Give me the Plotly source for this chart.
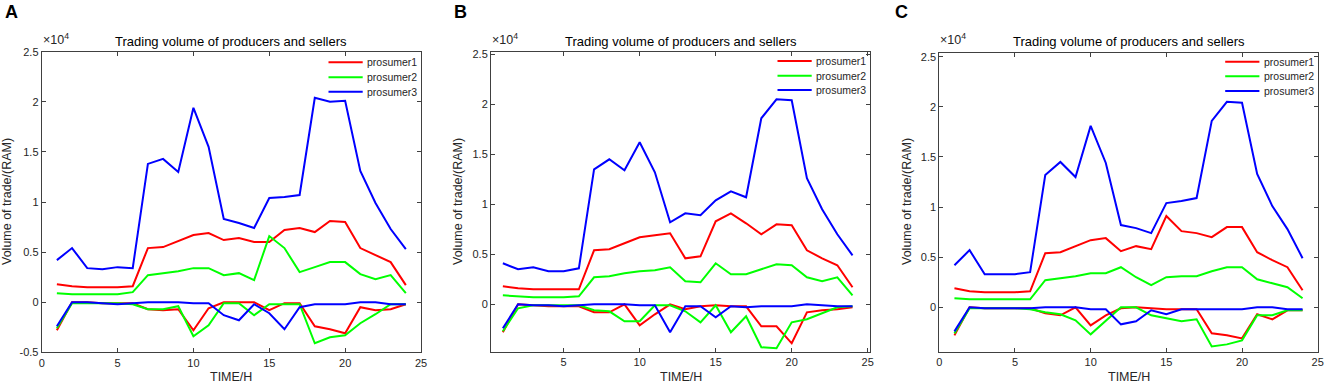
import plotly.graph_objects as go

hours = list(range(1, 25))

# Panel A (values in units of RAM)
a_p1_buy = [1800, 1600, 1500, 1500, 1500, 1600, 5400, 5500, 6100, 6700, 6900, 6200, 6400, 6000, 6000, 7200, 7400, 7000, 8100, 8000, 5400, 4700, 4000, 1700]
a_p2_buy = [900, 800, 800, 800, 800, 1000, 2700, 2900, 3100, 3400, 3400, 2700, 2900, 2200, 6600, 5400, 3000, 3500, 4000, 4000, 2800, 2300, 2700, 900]
a_p3_buy = [4200, 5400, 3400, 3300, 3500, 3400, 13800, 14300, 13000, 19400, 15500, 8300, 7900, 7400, 10400, 10500, 10700, 20400, 20000, 20100, 13100, 9900, 7300, 5300]
a_p1_sell = [-2800, 0, 0, -100, -100, -100, -700, -800, -700, -2800, -600, 0, 0, 0, -800, -100, -100, -2400, -2700, -3100, -500, -800, -700, -200]
a_p2_sell = [-2600, -100, -100, -100, -100, -200, -700, -700, -400, -3400, -2300, -100, -100, -1300, -200, -200, -200, -4100, -3500, -3300, -2100, -1200, -200, -200]
a_p3_sell = [-2400, 0, 0, -100, -200, -100, 0, 0, 0, -100, -100, -1300, -1800, -200, -1100, -2700, -500, -200, -200, -200, 0, 0, -200, -200]

# Panel B
b_p1_buy = [1800, 1600, 1500, 1500, 1500, 1500, 5400, 5500, 6100, 6700, 6900, 7100, 4600, 4800, 8300, 9100, 8100, 7000, 8000, 7900, 5400, 4600, 3900, 1700]
b_p2_buy = [900, 800, 700, 700, 700, 800, 2700, 2800, 3100, 3300, 3400, 3700, 2300, 2200, 4100, 3000, 3000, 3500, 4000, 3900, 2700, 2300, 2700, 900]
b_p3_buy = [4100, 3500, 3700, 3300, 3300, 3600, 13500, 14500, 13400, 16200, 13200, 8200, 9100, 8900, 10400, 11300, 10700, 18600, 20500, 20400, 12600, 9500, 7000, 4900]
b_p1_sell = [-2800, 0, -100, -200, -200, -200, -800, -800, 0, -2100, -1000, 0, -500, -200, -100, -200, -200, -2200, -2200, -3900, -800, -600, -500, -300]
b_p2_sell = [-2700, -400, -100, -100, -100, -100, -600, -700, -1700, -1700, -100, -100, -700, -1800, -100, -2800, -1200, -4300, -4400, -1800, -1500, -900, -300, -200]
b_p3_sell = [-2400, 0, -100, -100, -200, -100, 0, 0, 0, -100, -100, -2800, -200, -200, -1300, -200, -300, -200, -200, -200, 0, -100, -200, -200]

# Panel C
c_p1_buy = [1900, 1600, 1500, 1500, 1500, 1600, 5400, 5500, 6100, 6700, 6900, 5600, 6100, 5800, 9100, 7600, 7400, 7000, 8000, 8000, 5500, 4700, 4000, 1700]
c_p2_buy = [900, 800, 800, 800, 800, 800, 2700, 2900, 3100, 3400, 3400, 4000, 3000, 2200, 3000, 3100, 3100, 3600, 4000, 4000, 2800, 2400, 2000, 900]
c_p3_buy = [4200, 5700, 3300, 3300, 3300, 3500, 13200, 14500, 13000, 18100, 14400, 8200, 7900, 7400, 10400, 10600, 10900, 18600, 20500, 20400, 13300, 10100, 7800, 4900]
c_p1_sell = [-2800, 0, -100, -100, -100, -100, -600, -800, 0, -1800, -800, -100, 0, -100, -200, -200, -200, -2600, -2800, -3100, -700, -1200, -300, -300]
c_p2_sell = [-2600, -100, -100, -100, -100, -200, -500, -700, -1300, -2700, -1300, 0, 0, -800, -1100, -1400, -1200, -3900, -3700, -3300, -800, -800, -300, -300]
c_p3_sell = [-2400, 0, -100, -100, -100, -100, 0, 0, 0, -200, -200, -1700, -1400, -300, -700, -200, -200, -200, -200, -200, 0, 0, -200, -200]

series_names = ["prosumer1", "prosumer2", "prosumer3"]
colors = ["#ff0000", "#00ff00", "#0000ff"]
x_ticks = [0, 5, 10, 15, 20, 25]
y_ticks = [-5000, 0, 5000, 10000, 15000, 20000, 25000]
y_tick_labels = ["-0.5", "0", "0.5", "1", "1.5", "2", "2.5"]
title_text = "Trading volume of producers and sellers"

W, H = 1325, 386
FONT = "Liberation Sans, Arial, sans-serif"
AX = "#404040"
TXT = "#262626"

panels = [
    dict(letter="A", buy=[a_p1_buy, a_p2_buy, a_p3_buy], sell=[a_p1_sell, a_p2_sell, a_p3_sell],
         px=(41.7, 421.0), py=(51.7, 352.3), xr=[0, 25], yr=[-5000, 25000], lx=3, ytx=7,
         rows=[62.3, 77.3, 91.7]),
    dict(letter="B", buy=[b_p1_buy, b_p2_buy, b_p3_buy], sell=[b_p1_sell, b_p2_sell, b_p3_sell],
         px=(491.0, 870.0), py=(52.3, 351.7), xr=[0.22, 25.15], yr=[-4740, 25200], lx=452, ytx=458,
         rows=[61.0, 75.7, 90.0]),
    dict(letter="C", buy=[c_p1_buy, c_p2_buy, c_p3_buy], sell=[c_p1_sell, c_p2_sell, c_p3_sell],
         px=(939.3, 1317.7), py=(53.3, 351.7), xr=[0, 25], yr=[-4430, 25340], lx=893, ytx=907,
         rows=[61.7, 76.3, 91.0]),
]

fig = go.Figure()
annotations = []
shapes = []
layout = {}


def fx(p):
    return p / W


def fy(p):
    return 1 - p / H


for i, pn in enumerate(panels):
    k = "" if i == 0 else str(i + 1)
    xa, ya = "x" + k, "y" + k
    for j in range(3):
        fig.add_trace(go.Scatter(x=hours, y=pn["buy"][j], mode="lines", name=series_names[j],
                                 line=dict(color=colors[j], width=2), xaxis=xa, yaxis=ya,
                                 showlegend=False))
    for j in range(3):
        fig.add_trace(go.Scatter(x=hours, y=pn["sell"][j], mode="lines", name=series_names[j],
                                 line=dict(color=colors[j], width=2), xaxis=xa, yaxis=ya,
                                 showlegend=False))
    x0, x1 = pn["px"]
    y0, y1 = pn["py"]
    common = dict(showline=True, linecolor=AX, linewidth=1, mirror="ticks", ticks="inside",
                  ticklen=4, tickcolor=AX, showgrid=False, zeroline=False, automargin=False,
                  tickfont=dict(family=FONT, size=11, color=TXT))
    layout["xaxis" + k] = dict(domain=[fx(x0), fx(x1)], range=pn["xr"], anchor=ya,
                               tickvals=x_ticks, **common)
    layout["yaxis" + k] = dict(domain=[fy(y1), fy(y0)], range=pn["yr"], anchor=xa,
                               tickvals=y_ticks, ticktext=y_tick_labels, **common)
    # legend (keys + labels)
    for j in range(3):
        ry = pn["rows"][j]
        shapes.append(dict(type="line", xref="paper", yref="paper",
                           x0=fx(x1 - 92.5), x1=fx(x1 - 58.3), y0=fy(ry), y1=fy(ry),
                           line=dict(color=colors[j], width=2)))
        annotations.append(dict(text=series_names[j], x=fx(x1 - 56), y=fy(ry), xref="paper", yref="paper",
                                showarrow=False, xanchor="left", yanchor="middle",
                                font=dict(family=FONT, size=10.5, color=TXT)))
    cx = (x0 + x1) / 2
    annotations += [
        dict(text=title_text, x=fx(cx), y=fy(41), xref="paper", yref="paper", showarrow=False,
             xanchor="center", yanchor="middle", font=dict(family=FONT, size=13, color="#000000")),
        dict(text="×10<sup>4</sup>", x=fx(x0 - 1), y=fy(49), xref="paper", yref="paper", showarrow=False,
             xanchor="left", yanchor="bottom", font=dict(family=FONT, size=12.5, color=TXT)),
        dict(text="<b>" + pn["letter"] + "</b>", x=fx(pn["lx"]), y=fy(12), xref="paper", yref="paper",
             showarrow=False, xanchor="left", yanchor="middle", font=dict(family=FONT, size=18, color="#000000")),
        dict(text="Volume of trade/(RAM)", x=fx(pn["ytx"]), y=fy(202), xref="paper", yref="paper",
             showarrow=False, textangle=-90, xanchor="center", yanchor="middle",
             font=dict(family=FONT, size=12.5, color=TXT)),
        dict(text="TIME/H", x=fx(cx), y=fy(377), xref="paper", yref="paper", showarrow=False,
             xanchor="center", yanchor="middle", font=dict(family=FONT, size=12.5, color=TXT)),
    ]

fig.update_layout(width=W, height=H, margin=dict(l=0, r=0, t=0, b=0, autoexpand=False), autosize=False,
                  paper_bgcolor="white", plot_bgcolor="white", annotations=annotations, shapes=shapes,
                  showlegend=False, font=dict(family=FONT), **layout)

fig.write_html("out.html", config={"displayModeBar": False},
               post_script="document.body.style.margin='0';document.body.style.overflow='hidden';")
